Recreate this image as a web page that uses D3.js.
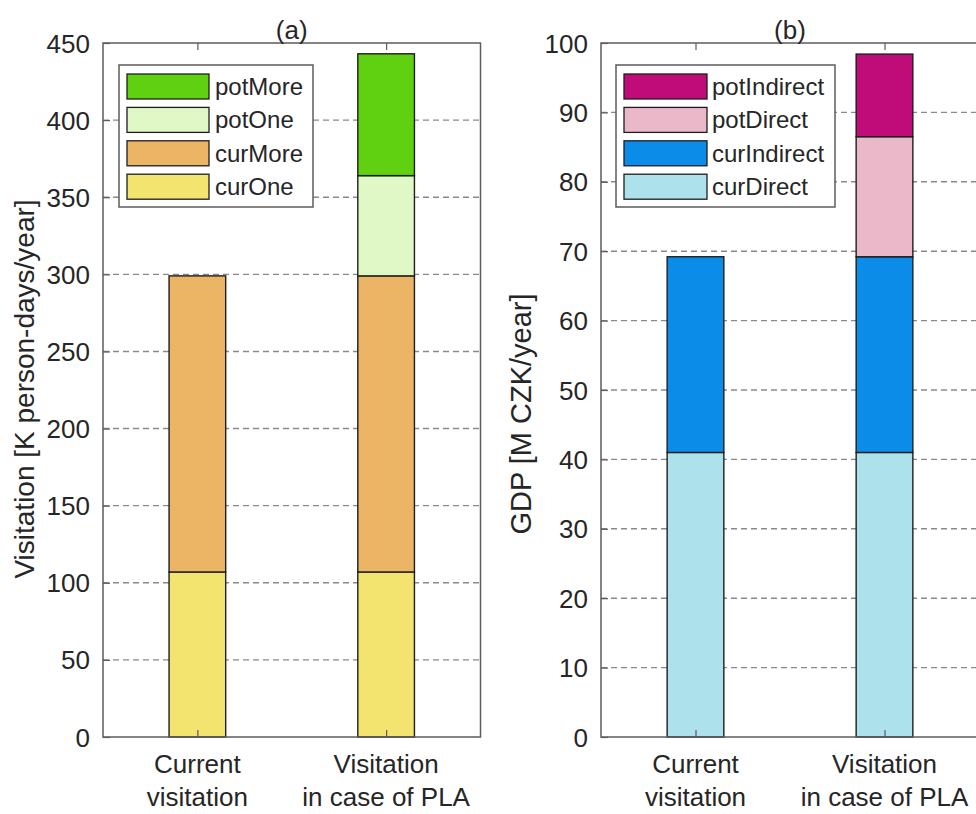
<!DOCTYPE html>
<html><head><meta charset="utf-8">
<script src="https://cdn.jsdelivr.net/npm/d3@7"></script>
<style>
html,body{margin:0;padding:0;background:#fff;}
svg{display:block;font-family:"Liberation Sans",Arial,Helvetica,sans-serif;}
</style></head>
<body>
<svg id="chart" width="976" height="814"></svg>
<script>
// ---------- DATA ----------
const categoryLines = [["Current", "visitation"], ["Visitation", "in case of PLA"]];
const categoryPos = [1, 2];

// Panel (a): Visitation [K person-days/year]
const visitKeys = ["curOne", "curMore", "potOne", "potMore"];
const curOne  = [107, 107];
const curMore = [192, 192];
const potOne  = [0, 65];
const potMore = [0, 79];
const visitTicks = [0, 50, 100, 150, 200, 250, 300, 350, 400, 450];

// Panel (b): GDP [M CZK/year]
const gdpKeys = ["curDirect", "curIndirect", "potDirect", "potIndirect"];
const curDirect   = [41, 41];
const curIndirect = [28.2, 28.2];
const potDirect   = [0, 17.3];
const potIndirect = [0, 11.9];
const gdpTicks = [0, 10, 20, 30, 40, 50, 60, 70, 80, 90, 100];

const visitColors = {curOne:"#F2E46E", curMore:"#ECB465", potOne:"#DFF8C5", potMore:"#5FD111"};
const gdpColors = {curDirect:"#ADE1EB", curIndirect:"#0B8CE9", potDirect:"#EBB8C9", potIndirect:"#C00C78"};

// ---------- DRAW ----------
const svg = d3.select("#chart");
const textColor = "#262626";
const axisColor = "#5c5c5c";
const fs = 26;

function panel(opts) {
  const {x0, x1, y0, y1, ticks, yMax, keys, series, colors, title, ylabel, ylabelX, ylabelY, ylabelFs, legend} = opts;
  const g = svg.append("g");
  const x = d3.scaleLinear().domain([0.5, 2.5]).range([x0, x1]);
  const y = d3.scaleLinear().domain([0, yMax]).range([y1, y0]);
  const barW = x(1.3) - x(1.0);

  // grid
  g.append("g").selectAll("line").data(ticks.filter(t => t > 0 && t < yMax)).join("line")
    .attr("x1", x0).attr("x2", x1).attr("y1", d => y(d)).attr("y2", d => y(d))
    .attr("stroke", "#8a8a8a").attr("stroke-width", 1.4).attr("stroke-dasharray", "6,4");

  // stacked bars
  const rows = categoryPos.map((c, i) => {
    const o = {cat: c};
    keys.forEach(k => o[k] = series[k][i]);
    return o;
  });
  const stacked = d3.stack().keys(keys)(rows);
  stacked.forEach(layer => {
    g.append("g").selectAll("rect").data(layer.filter(d => d[1] - d[0] > 0)).join("rect")
      .attr("x", d => x(d.data.cat) - barW / 2)
      .attr("width", barW)
      .attr("y", d => y(d[1]))
      .attr("height", d => y(d[0]) - y(d[1]))
      .attr("fill", colors[layer.key])
      .attr("stroke", "#1e1e1e").attr("stroke-width", 1.4);
  });

  // box
  g.append("rect").attr("x", x0).attr("y", y0).attr("width", x1 - x0).attr("height", y1 - y0)
    .attr("fill", "none").attr("stroke", axisColor).attr("stroke-width", 1.5);

  // y axis
  const yAxis = d3.axisLeft(y).tickValues(ticks).tickSize(-7).tickPadding(13).tickFormat(d3.format("d"));
  const ya = g.append("g").attr("transform", `translate(${x0},0)`).call(yAxis);
  ya.select(".domain").remove();
  ya.selectAll(".tick line").attr("stroke", axisColor).attr("stroke-width", 1.2);
  ya.selectAll(".tick text").attr("fill", textColor).style("font-size", fs + "px")
    .style("font-family", "'Liberation Sans',Arial,sans-serif").attr("dy", "0.35em");

  // x axis bottom
  const xAxis = d3.axisBottom(x).tickValues(categoryPos).tickSize(-7).tickFormat("");
  const xa = g.append("g").attr("transform", `translate(0,${y1})`).call(xAxis);
  xa.select(".domain").remove();
  xa.selectAll(".tick line").attr("stroke", axisColor).attr("stroke-width", 1.2);
  // top ticks
  const xt = g.append("g").attr("transform", `translate(0,${y0})`).call(d3.axisTop(x).tickValues(categoryPos).tickSize(-7).tickFormat(""));
  xt.select(".domain").remove();
  xt.selectAll(".tick line").attr("stroke", axisColor).attr("stroke-width", 1.2);

  // category labels
  categoryPos.forEach((c, i) => {
    categoryLines[i].forEach((ln, j) => {
      g.append("text").attr("x", x(c)).attr("y", 764 + j * 33).attr("dy", "0.35em")
        .attr("text-anchor", "middle").attr("fill", textColor).style("font-size", fs + "px").text(ln);
    });
  });

  // title
  g.append("text").attr("x", (x0 + x1) / 2).attr("y", 30).attr("dy", "0.35em")
    .attr("text-anchor", "middle").attr("fill", textColor).style("font-size", fs + "px").text(title);

  // y label
  g.append("text").attr("transform", `translate(${ylabelX},${ylabelY}) rotate(-90)`)
    .attr("dy", "0.35em").attr("text-anchor", "middle").attr("fill", textColor)
    .style("font-size", ylabelFs + "px").text(ylabel);

  // legend
  const L = legend;
  const lg = g.append("g");
  lg.append("rect").attr("x", L.x).attr("y", L.y).attr("width", L.w).attr("height", L.h)
    .attr("fill", "#fff").attr("stroke", axisColor).attr("stroke-width", 1.5);
  const order = keys.slice().reverse();
  order.forEach((k, i) => {
    const cy = L.y + 21.5 + i * 33.4;
    lg.append("rect").attr("x", L.sx).attr("y", cy - 12.5).attr("width", L.sw).attr("height", 25)
      .attr("fill", colors[k]).attr("stroke", "#1e1e1e").attr("stroke-width", 1.3);
    lg.append("text").attr("x", L.tx).attr("y", cy).attr("dy", "0.35em").attr("fill", textColor)
      .style("font-size", "24px").text(k);
  });
}

panel({
  x0: 103, x1: 480.5, y0: 43, y1: 737, ticks: visitTicks, yMax: 450,
  keys: visitKeys, series: {curOne, curMore, potOne, potMore}, colors: visitColors,
  title: "(a)", ylabel: "Visitation [K person-days/year]", ylabelX: 24, ylabelY: 389, ylabelFs: 28,
  legend: {x: 119, y: 65, w: 194, h: 142, sx: 127, sw: 82, tx: 215}
});
panel({
  x0: 601, x1: 979, y0: 43, y1: 737, ticks: gdpTicks, yMax: 100,
  keys: gdpKeys, series: {curDirect, curIndirect, potDirect, potIndirect}, colors: gdpColors,
  title: "(b)", ylabel: "GDP [M CZK/year]", ylabelX: 521, ylabelY: 414, ylabelFs: 29,
  legend: {x: 616, y: 65, w: 219, h: 142, sx: 624, sw: 83, tx: 712}
});
</script>
</body></html>
